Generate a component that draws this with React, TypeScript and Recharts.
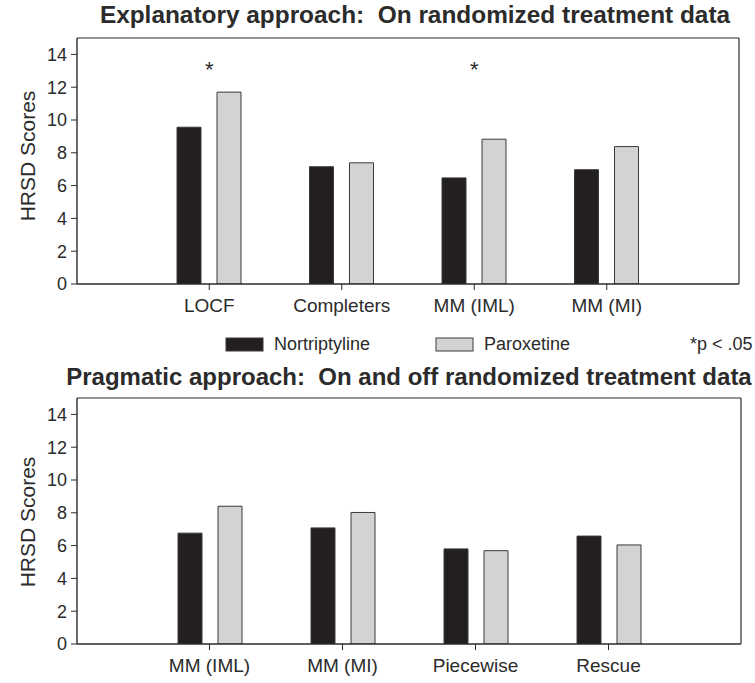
import { BarChart, Bar, XAxis, YAxis, ReferenceDot } from 'recharts';

const explanatoryCategories = ['LOCF', 'Completers', 'MM (IML)', 'MM (MI)'];
const explanatoryNortriptyline = [9.56, 7.15, 6.47, 6.97];
const explanatoryParoxetine = [11.7, 7.39, 8.83, 8.38];
const explanatorySignificant = ['LOCF', 'MM (IML)'];

const pragmaticCategories = ['MM (IML)', 'MM (MI)', 'Piecewise', 'Rescue'];
const pragmaticNortriptyline = [6.76, 7.08, 5.8, 6.58];
const pragmaticParoxetine = [8.4, 8.02, 5.69, 6.04];
const pragmaticSignificant: string[] = [];

const seriesNames = ['Nortriptyline', 'Paroxetine'];
const yTicks = [0, 2, 4, 6, 8, 10, 12, 14];
const starLevel = 13.1;

const FONT = '"Liberation Sans", Arial, Helvetica, sans-serif';
const INK = '#2b2b2b';
const DARK = '#231f20';
const LIGHT = '#d1d3d4';

const StarMark = (props: any) => (
  <text x={props.cx} y={props.cy} textAnchor="middle" dominantBaseline="central" fontSize={22} fill={INK} fontFamily={FONT}>
    *
  </text>
);

interface PanelProps {
  categories: string[];
  nort: number[];
  parox: number[];
  stars: string[];
  top: number;
  right: number;
}

function ScorePanel({ categories, nort, parox, stars, top, right }: PanelProps) {
  const data = categories.map((name, i) => ({ name, nort: nort[i], parox: parox[i] }));
  const axisLine = { stroke: INK, strokeWidth: 1.4 };
  return (
    <div style={{ position: 'absolute', left: 0, top }}>
      <BarChart
        width={755}
        height={324}
        data={data}
        margin={{ top: 37, right, bottom: 5, left: 0 }}
        barSize={24}
        barGap={16}
        style={{ fontFamily: FONT }}
      >
        <XAxis
          dataKey="name"
          padding={{ left: 66, right: 66 }}
          tickSize={6}
          tickMargin={9}
          axisLine={axisLine}
          tickLine={{ stroke: INK }}
          tick={{ fill: INK, fontSize: 19 }}
          height={35}
          interval={0}
        />
        {/* thin top/right axes only to close the frame */}
        <XAxis xAxisId="frame" dataKey="name" orientation="top" tick={false} tickLine={false} height={1} axisLine={{ stroke: INK, strokeWidth: 1.2 }} />
        <YAxis
          domain={[0, 15]}
          ticks={yTicks}
          width={77}
          tickSize={6}
          tickMargin={4}
          axisLine={axisLine}
          tickLine={{ stroke: INK }}
          tick={{ fill: INK, fontSize: 18 }}
          allowDataOverflow
        />
        <YAxis yAxisId="frame" orientation="right" domain={[0, 15]} tick={false} tickLine={false} width={1} axisLine={{ stroke: INK, strokeWidth: 1.2 }} />
        <Bar dataKey="nort" name={seriesNames[0]} fill={DARK} stroke="#3a3a3a" strokeWidth={1} isAnimationActive={false} />
        <Bar dataKey="parox" name={seriesNames[1]} fill={LIGHT} stroke="#3a3a3a" strokeWidth={1} isAnimationActive={false} />
        {stars.map((c) => (
          <ReferenceDot key={c} x={c} y={starLevel} r={0} shape={StarMark} ifOverflow="visible" />
        ))}
      </BarChart>
    </div>
  );
}

export default function App() {
  const legendSwatches = [
    { name: seriesNames[0], fill: DARK, x: 226 },
    { name: seriesNames[1], fill: LIGHT, x: 436 },
  ];
  return (
    <div style={{ position: 'absolute', left: 0, top: 0, width: 755, height: 683, overflow: 'hidden', background: '#fff', fontFamily: FONT }}>
      <ScorePanel
        categories={explanatoryCategories}
        nort={explanatoryNortriptyline}
        parox={explanatoryParoxetine}
        stars={explanatorySignificant}
        top={0}
        right={15}
      />
      <ScorePanel
        categories={pragmaticCategories}
        nort={pragmaticNortriptyline}
        parox={pragmaticParoxetine}
        stars={pragmaticSignificant}
        top={360}
        right={13}
      />
      <svg width={755} height={683} style={{ position: 'absolute', left: 0, top: 0, pointerEvents: 'none' }} fontFamily={FONT}>
        <text x={415} y={23} textAnchor="middle" fontSize={24.4} fontWeight="bold" fill={INK}>
          Explanatory approach:{'\u00a0\u00a0'}On randomized treatment data
        </text>
        <text x={409} y={385} textAnchor="middle" fontSize={24} fontWeight="bold" fill={INK}>
          Pragmatic approach:{'\u00a0\u00a0'}On and off randomized treatment data
        </text>
        <text transform="translate(35,156) rotate(-90)" textAnchor="middle" fontSize={21} fill={INK}>
          HRSD Scores
        </text>
        <text transform="translate(35,522) rotate(-90)" textAnchor="middle" fontSize={21} fill={INK}>
          HRSD Scores
        </text>
        {legendSwatches.map((s) => (
          <g key={s.name}>
            <rect x={s.x} y={338} width={37} height={13} fill={s.fill} stroke="#3a3a3a" strokeWidth={1} />
            <text x={s.x + 48} y={350} fontSize={18} fill={INK}>
              {s.name}
            </text>
          </g>
        ))}
        <text x={690} y={350} fontSize={18} fill={INK}>
          *p &lt; .05
        </text>
      </svg>
    </div>
  );
}
